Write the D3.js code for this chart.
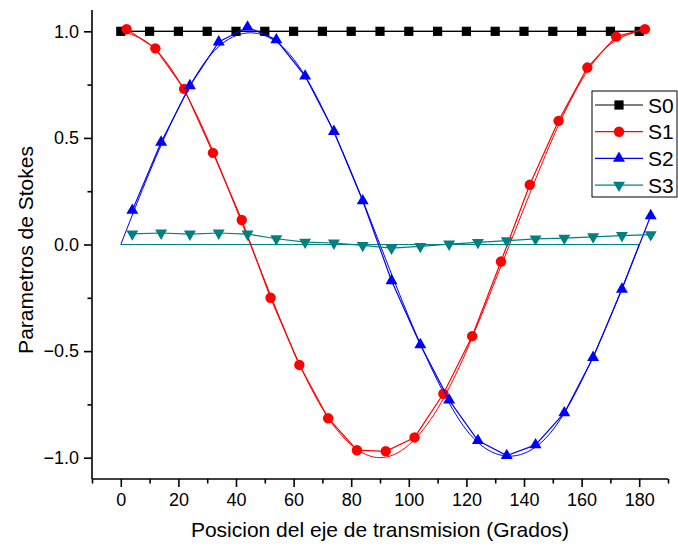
<!DOCTYPE html>
<html>
<head>
<meta charset="utf-8">
<script src="https://cdn.jsdelivr.net/npm/d3@7"></script>
<style>
  body { margin: 0; background: #fff; }
  text { font-family: "Liberation Sans", Arial, sans-serif; fill: #000; }
</style>
</head>
<body>
<div id="chart"></div>
<script>
// Measured data (angle in degrees)
var angS0 = [0, 10, 20, 30, 40, 50, 60, 70, 80, 90, 100, 110, 120, 130, 140, 150, 160, 170, 180];
var valS0 = [1, 1, 1, 1, 1, 1, 1, 1, 1, 1, 1, 1, 1, 1, 1, 1, 1, 1, 1];

var angS1 = [2, 12, 22, 32, 42, 52, 62, 72, 82, 92, 102, 112, 122, 132, 142, 152, 162, 172, 182];
var valS1 = [1.01, 0.92, 0.73, 0.43, 0.115, -0.25, -0.565, -0.815, -0.965, -0.97, -0.905, -0.70, -0.43, -0.08, 0.28, 0.58, 0.83, 0.975, 1.01];

var angS2 = [4, 14, 24, 34, 44, 54, 64, 74, 84, 94, 104, 114, 124, 134, 144, 154, 164, 174, 184];
var valS2 = [0.16, 0.48, 0.745, 0.95, 1.02, 0.96, 0.79, 0.53, 0.205, -0.17, -0.47, -0.73, -0.92, -0.99, -0.94, -0.79, -0.53, -0.21, 0.135];

var angS3 = [4, 14, 24, 34, 44, 54, 64, 74, 84, 94, 104, 114, 124, 134, 144, 154, 164, 174, 184];
var valS3 = [0.05, 0.054, 0.049, 0.054, 0.049, 0.027, 0.011, 0.007, -0.004, -0.017, -0.009, 0.002, 0.01, 0.018, 0.026, 0.03, 0.036, 0.042, 0.046];

// Theoretical curves
var angTh = [0, 10, 20, 30, 40, 50, 60, 70, 80, 90, 100, 110, 120, 130, 140, 150, 160, 170, 180];
var thS0 = [1, 1, 1, 1, 1, 1, 1, 1, 1, 1, 1, 1, 1, 1, 1, 1, 1, 1, 1];
var thS1 = [1, 0.94, 0.77, 0.5, 0.17, -0.17, -0.5, -0.77, -0.94, -1, -0.94, -0.77, -0.5, -0.17, 0.17, 0.5, 0.77, 0.94, 1];
var thS2 = [0, 0.34, 0.64, 0.87, 0.98, 0.98, 0.87, 0.64, 0.34, 0, -0.34, -0.64, -0.87, -0.98, -0.98, -0.87, -0.64, -0.34, 0];
var thS3 = [0, 0, 0, 0, 0, 0, 0, 0, 0, 0, 0, 0, 0, 0, 0, 0, 0, 0, 0];

var xTicks = [0, 20, 40, 60, 80, 100, 120, 140, 160, 180];
var yTicks = [-1.0, -0.5, 0.0, 0.5, 1.0];
var seriesNames = ["S0", "S1", "S2", "S3"];

var svgWidth = 678;
var svgHeight = 548;

var svg = d3.select("#chart")
  .append("svg")
  .attr("width", svgWidth)
  .attr("height", svgHeight);

// scales
var x = d3.scaleLinear().domain([-10, 190]).range([92, 668]);
var y = d3.scaleLinear().domain([-1.1, 1.1]).range([479, 10]);

// series styles
var series = [
  { name: seriesNames[0], color: "#000000", ang: angS0, val: valS0, th: thS0, shape: "square" },
  { name: seriesNames[1], color: "#ff0000", ang: angS1, val: valS1, th: thS1, shape: "circle" },
  { name: seriesNames[2], color: "#0000ff", ang: angS2, val: valS2, th: thS2, shape: "up" },
  { name: seriesNames[3], color: "#008080", ang: angS3, val: valS3, th: thS3, shape: "down" }
];

function drawMarker(g, shape, color) {
  if (shape === "square") {
    g.append("rect").attr("x", -4.6).attr("y", -4.6).attr("width", 9.2).attr("height", 9.2).attr("fill", color);
  } else if (shape === "circle") {
    g.append("circle").attr("r", 5.2).attr("fill", color);
  } else {
    g.append("path")
      .attr("d", d3.symbol().type(d3.symbolTriangle).size(62)())
      .attr("transform", shape === "down" ? "rotate(180)" : null)
      .attr("fill", color);
  }
}

// axes
var xAxis = d3.axisBottom(x).tickValues(xTicks).tickSize(8).tickPadding(6).tickFormat(d3.format("d"));
var xMinor = d3.axisBottom(x).tickValues(d3.range(-10, 191, 20)).tickSize(4.5).tickFormat("");
var yAxis = d3.axisLeft(y).tickValues(yTicks).tickSize(8).tickPadding(5).tickFormat(d3.format(".1f"));
var yMinor = d3.axisLeft(y).tickValues([-0.75, -0.25, 0.25, 0.75]).tickSize(4.5).tickFormat("");

function styleAxis(g) {
  g.select(".domain").attr("stroke", "#000").attr("stroke-width", 1.6);
  g.selectAll(".tick line").attr("stroke", "#000").attr("stroke-width", 1.6);
  g.selectAll("text").style("font-size", "18px").attr("font-family", null);
}

var gx = svg.append("g").attr("transform", "translate(0,479)").call(xAxis);
gx.select(".domain").attr("d", "M92,0H668");
styleAxis(gx);
var gxm = svg.append("g").attr("transform", "translate(0,479)").call(xMinor);
gxm.select(".domain").remove();
styleAxis(gxm);

var gy = svg.append("g").attr("transform", "translate(92,0)").call(yAxis);
gy.select(".domain").attr("d", "M0,10V479");
styleAxis(gy);
var gym = svg.append("g").attr("transform", "translate(92,0)").call(yMinor);
gym.select(".domain").remove();
styleAxis(gym);

// theoretical lines
var thLine = d3.line()
  .x(function(d) { return x(d[0]); })
  .y(function(d) { return y(d[1]); })
  .curve(d3.curveNatural);

var dataLine = d3.line()
  .x(function(d) { return x(d[0]); })
  .y(function(d) { return y(d[1]); });

series.forEach(function(s) {
  svg.append("path")
    .datum(angTh.map(function(a, i) { return [a, s.th[i]]; }))
    .attr("d", thLine)
    .attr("fill", "none")
    .attr("stroke", s.color)
    .attr("stroke-width", 1);
});

// measured lines + markers
series.forEach(function(s) {
  var pts = s.ang.map(function(a, i) { return [a, s.val[i]]; });
  svg.append("path")
    .datum(pts)
    .attr("d", dataLine)
    .attr("fill", "none")
    .attr("stroke", s.color)
    .attr("stroke-width", 1.2);
  pts.forEach(function(p) {
    var g = svg.append("g").attr("transform", "translate(" + x(p[0]) + "," + y(p[1]) + ")");
    drawMarker(g, s.shape, s.color);
  });
});

// legend
var legend = svg.append("g");
legend.append("rect")
  .attr("x", 592).attr("y", 91)
  .attr("width", 85).attr("height", 106)
  .attr("fill", "#fff")
  .attr("stroke", "#000")
  .attr("stroke-width", 1);

series.forEach(function(s, i) {
  var ly = 105 + i * 26.7;
  legend.append("line")
    .attr("x1", 595).attr("x2", 643)
    .attr("y1", ly).attr("y2", ly)
    .attr("stroke", s.color)
    .attr("stroke-width", 1.2);
  var g = legend.append("g").attr("transform", "translate(619," + ly + ")");
  drawMarker(g, s.shape, s.color);
  legend.append("text")
    .attr("x", 648).attr("y", ly)
    .attr("dy", "0.36em")
    .style("font-size", "21px")
    .text(s.name);
});

// axis titles
svg.append("text")
  .attr("x", 380).attr("y", 537)
  .attr("text-anchor", "middle")
  .style("font-size", "21px")
  .text("Posicion del eje de transmision (Grados)");

svg.append("text")
  .attr("transform", "translate(33,250) rotate(-90)")
  .attr("text-anchor", "middle")
  .style("font-size", "21px")
  .text("Parametros de Stokes");
</script>
</body>
</html>
